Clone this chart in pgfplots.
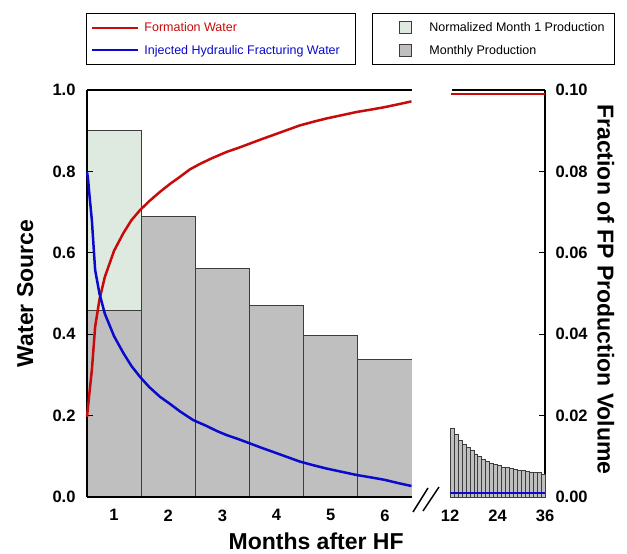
\documentclass[border=0pt]{standalone}
\usepackage{fontspec}
\setmainfont{Liberation Sans}
\usepackage{pgfplots}
\pgfplotsset{compat=1.18}

\definecolor{fwred}{RGB}{200,10,10}
\definecolor{hfblue}{RGB}{10,10,205}
\definecolor{bargray}{RGB}{191,191,191}
\definecolor{baredge}{RGB}{60,60,60}
\definecolor{normfill}{RGB}{222,234,224}

\pgfplotsset{
  panel/.style={
    scale only axis, anchor=south west, height=407pt, ymin=0,
    /pgf/number format/assume math mode=true,
    tick label style={font=\fontsize{16.5}{19}\selectfont\bfseries},
    xticklabel style={yshift=-9pt},
    label style={font=\fontsize{23}{27}\selectfont\bfseries},
    axis line style={-, line width=2.5pt},
    tick align=inside, major tick length=6pt,
    xtick style={draw=none},
    ytick style={line width=0.8pt, black},
  },
  hidden/.style={scale only axis, anchor=south west, height=407pt, ymin=0, hide axis},
}

\begin{document}
\begin{tikzpicture}
\path[use as bounding box] (-87pt,-57pt) rectangle (540pt,497pt);

% monthly production bars, months 1-6 (right-hand scale)
\begin{axis}[hidden, at={(0pt,0pt)}, width=325pt, xmin=0.5, xmax=6.5, ymax=0.1,
  legend style={at={(0.877,1.189)}, anchor=north west, draw=black, line width=0.8pt,
    font=\fontsize{12.5}{15}\selectfont, inner xsep=4pt, inner ysep=7pt, row sep=8pt},
  legend cell align=left,
  legend image code/.code={\path[draw=none, fill=none] (0pt,0pt) -- (51pt,0pt);
    \draw[#1, line width=0.8pt] (23pt,-6pt) rectangle (35pt,6pt);},
]
\addplot[ybar, bar width=1, bar shift=0pt, fill=normfill, draw=baredge, line width=0.8pt]
  coordinates {(1,0.090)};
\addlegendentry{\makebox[179pt][l]{Normalized Month 1 Production}}
\addplot[ybar, bar width=1, bar shift=0pt, fill=bargray, draw=baredge, line width=0.8pt]
  coordinates {(1,0.0458) (2,0.0689) (3,0.0561) (4,0.0470) (5,0.0396) (6,0.0338)};
\addlegendentry{\makebox[179pt][l]{Monthly Production}}
\end{axis}

% water source curves, months 1-6
\begin{axis}[panel, at={(0pt,0pt)}, width=325pt, xmin=0.5, xmax=6.5, ymax=1,
  axis x line*=bottom, axis y line*=left,
  xtick={1,2,3,4,5,6}, ytick={0,0.2,0.4,0.6,0.8,1},
  yticklabel style={xshift=-8pt, /pgf/number format/.cd, fixed, fixed zerofill, precision=1},
  xlabel={Months after HF}, ylabel={Water Source},
  xlabel style={at={(axis description cs:0.705,-0.108)}, anchor=center},
  ylabel style={at={(axis description cs:-0.19,0.5)}, anchor=center},
  clip=false,
  legend style={at={(-0.003,1.189)}, anchor=north west, draw=black, line width=0.8pt,
    font=\fontsize{12.5}{15}\selectfont, inner xsep=4pt, inner ysep=7pt, row sep=8pt},
  legend cell align=left,
  legend image code/.code={\path[draw=none] (0pt,0pt) -- (52pt,0pt);
    \draw[#1, line width=2pt] (2pt,0pt) -- (48pt,0pt);},
]
\addplot[fwred, line width=2.5pt] coordinates {
  (0.50,0.197) (0.55,0.262) (0.59,0.312) (0.65,0.418) (0.73,0.485) (0.83,0.541)
  (1.00,0.605) (1.17,0.648) (1.32,0.680) (1.48,0.705) (1.65,0.727) (1.85,0.750)
  (2.04,0.770) (2.22,0.787) (2.40,0.805) (2.58,0.818) (2.80,0.832) (3.08,0.848)
  (3.30,0.858) (3.50,0.868) (3.72,0.879) (3.93,0.889) (4.18,0.901) (4.43,0.913)
  (4.68,0.922) (4.92,0.930) (5.20,0.938) (5.48,0.946) (5.75,0.952) (6.00,0.958)
  (6.25,0.965) (6.49,0.972)
};
\addlegendentry{\makebox[205pt][l]{\textcolor{fwred}{Formation Water}}}
\addplot[hfblue, line width=2.5pt] coordinates {
  (0.50,0.800) (0.52,0.780) (0.55,0.735) (0.59,0.680) (0.65,0.558) (0.73,0.500)
  (0.83,0.450) (1.00,0.395) (1.17,0.354) (1.32,0.322) (1.48,0.295) (1.65,0.270)
  (1.85,0.246) (2.04,0.228) (2.22,0.210) (2.46,0.189) (2.70,0.175) (2.90,0.162)
  (3.08,0.152) (3.30,0.142) (3.50,0.132) (3.72,0.121) (3.93,0.111) (4.18,0.099)
  (4.43,0.087) (4.68,0.078) (4.92,0.070) (5.20,0.062) (5.48,0.054) (5.75,0.048)
  (6.00,0.042) (6.25,0.034) (6.49,0.027)
};
\addlegendentry{\makebox[205pt][l]{\textcolor{hfblue}{Injected Hydraulic Fracturing Water}}}
\draw[line width=2pt] (rel axis cs:0,1) -- (rel axis cs:1,1);
\end{axis}

% axis break marks
\draw[line width=1.5pt] (326pt,-15pt) -- (341pt,9pt);
\draw[line width=1.5pt] (336pt,-14pt) -- (352pt,10pt);

% monthly production bars, months 12-36
\begin{axis}[panel, at={(363pt,0pt)}, width=95pt, xmin=12, xmax=36, ymax=0.1,
  axis x line*=bottom, axis y line*=right,
  xtick={12,24,36}, ytick={0,0.02,0.04,0.06,0.08,0.1},
  yticklabel style={xshift=7pt, /pgf/number format/.cd, fixed, fixed zerofill, precision=2},
  ylabel={Fraction of FP Production Volume},
  ylabel style={at={(axis description cs:1.64,0.51)}, anchor=center, rotate=180},
  clip=false,
]
\addplot[ybar, bar width=1, bar shift=0pt, fill=bargray, draw=baredge, line width=0.5pt] coordinates {
  (12.5,0.0170) (13.5,0.0155) (14.5,0.0140) (15.5,0.0130) (16.5,0.0122) (17.5,0.0114)
  (18.5,0.0106) (19.5,0.0099) (20.5,0.0093) (21.5,0.0088) (22.5,0.0084) (23.5,0.0081)
  (24.5,0.0078) (25.5,0.0074) (26.5,0.0072) (27.5,0.0070) (28.5,0.0068) (29.5,0.0066)
  (30.5,0.0065) (31.5,0.0063) (32.5,0.0062) (33.5,0.0061) (34.5,0.0060) (35.5,0.0057)
};
\draw[line width=2pt] (rel axis cs:0.02,1) -- (rel axis cs:1,1);
\end{axis}

% water source after month 12
\begin{axis}[hidden, at={(363pt,0pt)}, width=95pt, xmin=12, xmax=36, ymax=1]
\addplot[fwred, line width=2.5pt] coordinates {(12.3,0.99) (36,0.99)};
\addplot[hfblue, line width=2.5pt] coordinates {(12,0.01) (36,0.01)};
\end{axis}
\end{tikzpicture}
\end{document}
